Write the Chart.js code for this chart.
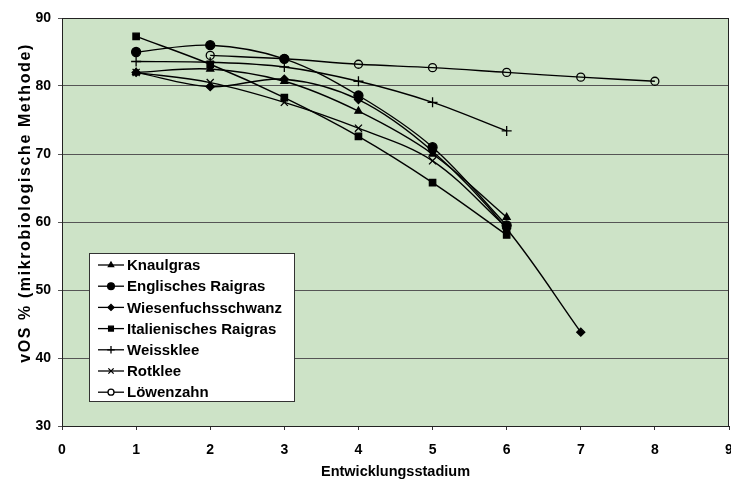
<!DOCTYPE html>
<html>
<head>
<meta charset="utf-8">
<script src="https://cdn.jsdelivr.net/npm/chart.js@4.4.1/dist/chart.umd.min.js"></script>
<style>
  html, body { margin: 0; padding: 0; background: #fff; overflow: hidden; }
  #wrap { width: 731px; height: 481px; overflow: hidden; }
</style>
</head>
<body>
<!-- canvas is a bit wider than the window so the "9" gets cut off at the edge, as in the scan -->
<div id="wrap"><canvas id="vosChart" width="745" height="481"></canvas></div>
<script>
// Entwicklungsstadium (x)
const stages = [1, 2, 3, 4, 5, 6, 7, 8];

// vOS % per Art
const knaulgras = [82, 82.5, 80.7, 76.3, 70, 60.7];
const englischesRaigras = [85, 86, 84, 78.6, 71, 59.5];
const wiesenfuchsschwanz = [82, 79.9, 81, 78, 70.4, 59, 43.8];
const italienischesRaigras = [87.3, 83.2, 78.3, 72.6, 65.8, 58.1];
const weissklee = [83.6, 83.5, 82.8, 80.7, 77.6, 73.4];
const rotklee = [82, 80.5, 77.6, 73.8, 69, 59.2];
const loewenzahn = [null, 84.5, 84, 83.2, 82.7, 82, 81.3, 80.7];

const yTicks = [30, 40, 50, 60, 70, 80, 90];
const xTicks = [0, 1, 2, 3, 4, 5, 6, 7, 8, 9];
const yTitle = 'vOS % (mikrobiologische Methode)';

function toPoints(values) {
    return values.map(function (v, i) { return { x: stages[i], y: v }; })
        .filter(function (p) { return p.y !== null; });
}

function series(label, values, style, radius, fill) {
    return {
        label: label,
        data: toPoints(values),
        borderColor: '#000',
        borderWidth: 1.4,
        pointStyle: style,
        pointRadius: radius,
        pointBackgroundColor: fill,
        pointBorderColor: '#000',
        pointBorderWidth: 1.3,
        tension: 0.35,
        fill: false
    };
}

const plotBg = {
    id: 'plotBg',
    beforeDraw: function (chart) {
        const a = chart.chartArea;
        const ctx = chart.ctx;
        ctx.save();
        ctx.fillStyle = '#cde3c7';
        ctx.fillRect(a.left, a.top, a.right - a.left, a.bottom - a.top);
        ctx.restore();
    },
    afterDatasetsDraw: function (chart) {
        const a = chart.chartArea;
        const ctx = chart.ctx;
        ctx.save();
        ctx.strokeStyle = '#222';
        ctx.lineWidth = 1;
        ctx.strokeRect(a.left + 0.5, a.top + 0.5, a.right - a.left - 1, a.bottom - a.top);

        // y axis title, slightly spaced out like the original
        ctx.save();
        ctx.translate(26, 203);
        ctx.rotate(-Math.PI / 2);
        ctx.font = 'bold 16px "Liberation Sans", Arial, sans-serif';
        ctx.letterSpacing = '1.6px';
        ctx.fillStyle = '#000';
        ctx.textAlign = 'center';
        ctx.textBaseline = 'middle';
        ctx.fillText(yTitle, 0, 0);
        ctx.restore();

        // legend box inside the plot
        const x0 = 89, y0 = 253, w = 205, h = 148;
        ctx.fillStyle = '#fff';
        ctx.fillRect(x0, y0, w, h);
        ctx.strokeStyle = '#333';
        ctx.lineWidth = 1;
        ctx.strokeRect(x0 + 0.5, y0 + 0.5, w, h);
        ctx.font = 'bold 15px "Liberation Sans", Arial, sans-serif';
        ctx.textBaseline = 'middle';
        chart.data.datasets.forEach(function (ds, i) {
            const y = 265 + i * 21.2;
            ctx.strokeStyle = '#000';
            ctx.lineWidth = 1.3;
            ctx.beginPath();
            ctx.moveTo(98, y);
            ctx.lineTo(124, y);
            ctx.stroke();
            ctx.fillStyle = ds.pointBackgroundColor === '#000' ? '#000' : '#fff';
            ctx.strokeStyle = '#000';
            Chart.helpers.drawPoint(ctx, {
                pointStyle: ds.pointStyle,
                radius: ds.pointRadius * 0.75,
                borderWidth: 1.2
            }, 111, y);
            ctx.fillStyle = '#000';
            ctx.fillText(ds.label, 127, y + 1);
        });
        ctx.restore();
    }
};

const tickFont = { family: '"Liberation Sans", Arial, sans-serif', size: 14, weight: 'bold' };
const titleFont = { family: '"Liberation Sans", Arial, sans-serif', size: 14.5, weight: 'bold' };

const vosCtx = document.getElementById('vosChart').getContext('2d');
const vosChart = new Chart(vosCtx, {
    type: 'line',
    data: {
        datasets: [
            series('Knaulgras', knaulgras, 'triangle', 4, '#000'),
            series('Englisches Raigras', englischesRaigras, 'circle', 4.5, '#000'),
            series('Wiesenfuchsschwanz', wiesenfuchsschwanz, 'rectRot', 4, '#000'),
            series('Italienisches Raigras', italienischesRaigras, 'rect', 4.5, '#000'),
            series('Weissklee', weissklee, 'cross', 5, '#000'),
            series('Rotklee', rotklee, 'crossRot', 5, '#000'),
            series('Löwenzahn', loewenzahn, 'circle', 4, 'rgba(0,0,0,0)')
        ]
    },
    options: {
        responsive: false,
        animation: false,
        layout: { padding: { top: 18, right: 16, left: 0, bottom: 0 } },
        plugins: {
            legend: { display: false },
            tooltip: { enabled: false }
        },
        scales: {
            x: {
                type: 'linear',
                min: 0,
                max: 9,
                afterBuildTicks: function (scale) {
                    scale.ticks = xTicks.map(function (v) { return { value: v }; });
                },
                afterFit: function (scale) {
                    scale.height = 55;
                    scale.paddingLeft = 0;
                    scale.paddingRight = 0;
                },
                grid: {
                    drawOnChartArea: false,
                    color: '#333',
                    tickLength: 4
                },
                border: { color: '#222' },
                ticks: { color: '#000', font: tickFont, padding: 12, maxRotation: 0 },
                title: {
                    display: true,
                    text: 'Entwicklungsstadium',
                    color: '#000',
                    font: titleFont,
                    padding: { top: 9, bottom: 0 }
                }
            },
            y: {
                min: 30,
                max: 90,
                afterBuildTicks: function (scale) {
                    scale.ticks = yTicks.map(function (v) { return { value: v }; });
                },
                afterFit: function (scale) {
                    scale.width = 62;
                    scale.paddingTop = 0;
                    scale.paddingBottom = 0;
                },
                grid: {
                    color: '#555',
                    lineWidth: 1,
                    tickLength: 4
                },
                border: { color: '#222' },
                ticks: { color: '#000', font: tickFont, padding: 7 }
            }
        }
    },
    plugins: [plotBg]
});

window.vosChart = vosChart;
</script>
</body>
</html>
